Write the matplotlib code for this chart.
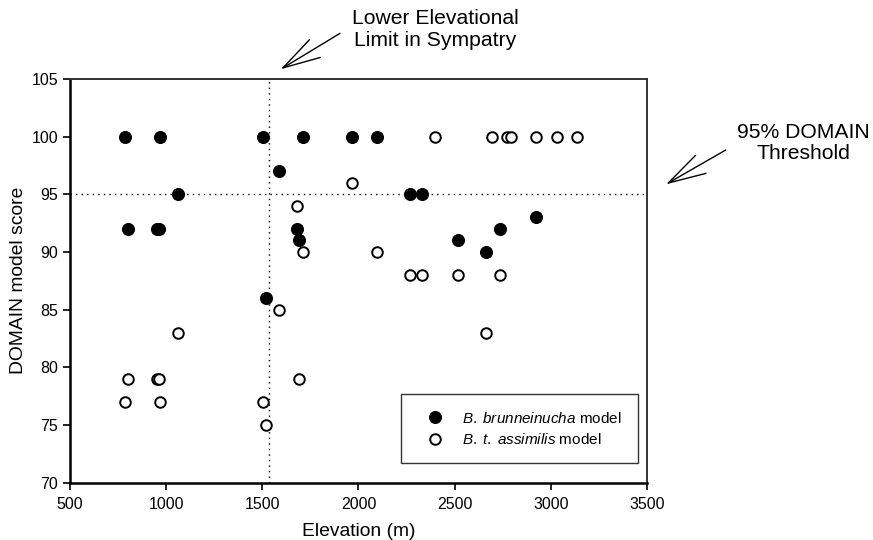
import matplotlib
matplotlib.use("Agg")
import matplotlib.pyplot as plt

plt.rcParams['font.family'] = ['Liberation Sans', 'DejaVu Sans']
plt.rcParams['mathtext.fontset'] = 'custom'
plt.rcParams['mathtext.it'] = 'Liberation Sans:italic'
plt.rcParams['mathtext.rm'] = 'Liberation Sans'

# B. brunneinucha model
brun_elev = [786, 967, 1504, 1712, 1966, 2095, 1589, 1060, 2266, 2328,
             2924, 800, 950, 965, 1678, 2734, 1690, 2516, 2664, 1518]
brun_score = [100, 100, 100, 100, 100, 100, 97, 95, 95, 95,
              93, 92, 92, 92, 92, 92, 91, 91, 90, 86]

# B. t. assimilis model
assim_elev = [2396, 2694, 2773, 2794, 2924, 3033, 3139, 1966, 1678, 1712,
              2095, 2266, 2328, 2516, 2734, 1589, 1060, 2664, 800, 950,
              965, 1690, 786, 967, 1504, 1518]
assim_score = [100, 100, 100, 100, 100, 100, 100, 96, 94, 90,
               90, 88, 88, 88, 88, 85, 83, 83, 79, 79,
               79, 79, 77, 77, 77, 75]

sympatry_limit = 1535
threshold = 95

xticks = [500, 1000, 1500, 2000, 2500, 3000, 3500]
yticks = [70, 75, 80, 85, 90, 95, 100, 105]

fig = plt.figure(figsize=(8.73, 5.40), dpi=100)
ax = fig.add_axes([0.0802, 0.106, 0.6608, 0.748])

ax.axvline(sympatry_limit, color='black', lw=1.0, ls=(0, (1, 3)), zorder=1)
ax.axhline(threshold, color='black', lw=1.0, ls=(0, (1, 3)), zorder=1)

ax.plot(brun_elev, brun_score, ls='none', marker='o', ms=8.4,
        mfc='black', mec='black', mew=1.0, zorder=3,
        label=r'$\it{B.\;brunneinucha}$ model')
ax.plot(assim_elev, assim_score, ls='none', marker='o', ms=7.6,
        mfc='white', mec='black', mew=1.4, zorder=3,
        label=r'$\it{B.\;t.\;assimilis}$ model')

ax.set_xlim(500, 3500)
ax.set_ylim(70, 105)
ax.set_xticks(xticks)
ax.set_yticks(yticks)
ax.tick_params(direction='out', length=5, width=1.2, labelsize=11.5)
ax.tick_params(axis='x', pad=5)
ax.tick_params(axis='y', pad=3.5)

for side in ['left', 'bottom']:
    ax.spines[side].set_linewidth(1.8)
    ax.spines[side].set_color('black')
for side in ['top', 'right']:
    ax.spines[side].set_linewidth(1.4)
    ax.spines[side].set_color('#333333')

ax.set_xlabel('Elevation (m)', fontsize=13.9, labelpad=8)
ax.set_ylabel('DOMAIN model score', fontsize=13.9, labelpad=3.5)

leg = ax.legend(loc='lower right', bbox_to_anchor=(0.984, 0.049),
                fontsize=11, frameon=True, fancybox=False,
                edgecolor='black', borderpad=1.05, handletextpad=0.56,
                labelspacing=0.42, borderaxespad=0, handlelength=2.4)
leg.get_frame().set_linewidth(1.0)

arrow_props = dict(arrowstyle='->, head_length=27, head_width=7.5',
                   mutation_scale=1, lw=1.0, color='black',
                   shrinkA=0, shrinkB=0)

fig.text(0.4989, 0.9454, 'Lower Elevational\nLimit in Sympatry',
         ha='center', va='center', fontsize=15.2, linespacing=1.15)
ax.annotate('', xy=(0.3215, 0.8717), xycoords='figure fraction',
            xytext=(0.3895, 0.9383), textcoords='figure fraction',
            arrowprops=arrow_props, annotation_clip=False)

fig.text(0.9207, 0.7346, '95% DOMAIN\nThreshold',
         ha='center', va='center', fontsize=15.2, linespacing=1.15)
ax.annotate('', xy=(0.7629, 0.6587), xycoords='figure fraction',
            xytext=(0.8313, 0.7222), textcoords='figure fraction',
            arrowprops=arrow_props, annotation_clip=False)

fig.savefig('out.png', dpi=100)
